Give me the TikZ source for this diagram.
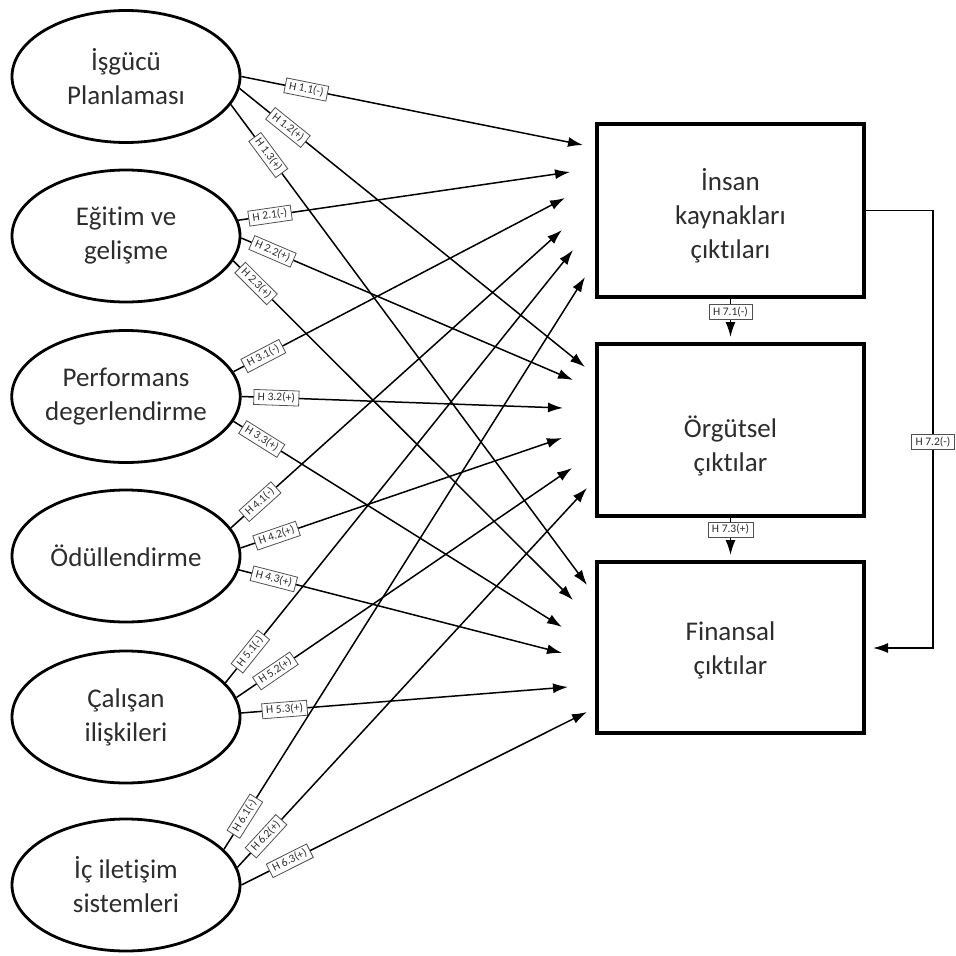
\documentclass[tikz,border=0pt]{standalone}
\usepackage{fontspec}
\setmainfont{Carlito}[Ligatures=NoCommon]
\usetikzlibrary{arrows.meta,shapes.geometric,calc}
\definecolor{txtgray}{RGB}{45,45,45}
\definecolor{lblgray}{RGB}{80,80,80}
\begin{document}
\begin{tikzpicture}[x=1pt,y=-1pt,
  ell/.style={ellipse,draw=black,line width=2.8pt,minimum width=228pt,minimum height=132pt,inner sep=0pt,align=center,font=\fontsize{27}{34}\selectfont,text=txtgray},
  outbox/.style={rectangle,draw=black,line width=3.2pt,minimum width=267pt,minimum height=172pt,inner sep=0pt},
  boxtxt/.style={align=center,font=\fontsize{27}{34}\selectfont,text=txtgray,inner sep=0pt},
  conn/.style={line width=1.5pt,-{Latex[length=15pt,width=10pt]}},
  hl/.style={draw=lblgray,fill=white,line width=0.8pt,font=\fontsize{11.5}{12}\selectfont,inner xsep=4pt,inner ysep=2pt,text height=8.5pt,text depth=2.5pt,text=txtgray},
]
\fill[white] (0,0) rectangle (956,956);
\useasboundingbox (0,0) rectangle (956,956);

% ellipses (causes)
\node[ell] (e1) at (126,76.5) {İşgücü\\Planlaması};
\node[ell] (e2) at (126,236) {Eğitim ve\\gelişme};
\node[ell] (e3) at (126,396.5) {Performans\\degerlendirme};
\node[ell] (e4) at (126,556) {Ödüllendirme};
\node[ell] (e5) at (126,717) {Çalışan\\ilişkileri};
\node[ell] (e6) at (126,885) {İç iletişim\\sistemleri};

% outcome boxes
\node[outbox,minimum height=173pt] (b1) at (730.5,210.5) {};
\node[outbox] (b2) at (730.5,430) {};
\node[outbox,minimum height=171pt] (b3) at (730.5,647.5) {};
\node[boxtxt] (b1t) at (730.5,216) {İnsan\\kaynakları\\çıktıları};
\node[boxtxt] (b2t) at (730.5,446) {Örgütsel\\çıktılar};
\node[boxtxt] (b3t) at (730.5,650) {Finansal\\çıktılar};

% arrow tips (free ends)
\coordinate (t11) at (583,145); \coordinate (t12) at (585,367); \coordinate (t13) at (587,585);
\coordinate (t21) at (570,172); \coordinate (t22) at (573,380); \coordinate (t23) at (573,600);
\coordinate (t31) at (565,198); \coordinate (t32) at (563,408); \coordinate (t33) at (562,627);
\coordinate (t41) at (562,230); \coordinate (t42) at (562,438); \coordinate (t43) at (562,653);
\coordinate (t51) at (573,250); \coordinate (t52) at (572,468); \coordinate (t53) at (568,687);
\coordinate (t61) at (585,277); \coordinate (t62) at (587,488); \coordinate (t63) at (587,712);
\coordinate (t71) at (730.5,337);
\coordinate (t73) at (730.5,555);
\coordinate (t72) at (873,648);
\coordinate (fb) at (933,648);

% connectors
\draw[conn] (e1.0)   -- node[hl,sloped,pos=.19]  {H 1.1(-)} (t11);
\draw[conn] (e1.-6)  -- node[hl,sloped,pos=.14]  {H 1.2(+)} (t12);
\draw[conn] (e1.-15) -- node[hl,sloped,pos=.105] {H 1.3(+)} (t13);

\draw[conn] (e2.8)   -- node[hl,sloped,pos=.096] {H 2.1(-)} (t21);
\draw[conn] (e2.-1)  -- node[hl,sloped,pos=.094] {H 2.2(+)} (t22);
\draw[conn] (e2.-13) -- node[hl,sloped,pos=.067] {H 2.3(+)} (t23);

\draw[conn] (e3.13)  -- node[hl,sloped,pos=.09]  {H 3.1(-)} (t31);
\draw[conn] (e3.0)   -- node[hl,sloped,pos=.108] {H 3.2(+)} (t32);
\draw[conn] (e3.-13) -- node[hl,sloped,pos=.086] {H 3.3(+)} (t33);

\draw[conn] (e4.15)  -- node[hl,sloped,pos=.088] {H 4.1(-)} (t41);
\draw[conn] (e4.4)   -- node[hl,sloped,pos=.112] {H 4.2(+)} (t42);
\draw[conn] (e4.-7)  -- node[hl,sloped,pos=.108] {H 4.3(+)} (t43);

\draw[conn] (e5.19)  -- node[hl,sloped,pos=.072] {H 5.1(-)} (t51);
\draw[conn] (e5.10)  -- node[hl,sloped,pos=.116] {H 5.2(+)} (t52);
\draw[conn] (e5.2)   -- node[hl,sloped,pos=.133] {H 5.3(+)} (t53);

\draw[conn] (e6.20)  -- node[hl,sloped,pos=.058] {H 6.1(-)} (t61);
\draw[conn] (e6.9)   -- node[hl,sloped,pos=.082] {H 6.2(+)} (t62);
\draw[conn] (e6.0)   -- node[hl,sloped,pos=.14]  {H 6.3(+)} (t63);

\draw[conn] (b1.south) -- node[hl,pos=.35] {H 7.1(-)} (t71);
\draw[conn] (b2.south) -- node[hl,pos=.33] {H 7.3(+)} (t73);
\draw[conn] (b1.east) -| node[hl,pos=.765] {H 7.2(-)} (fb) -- (t72);
\end{tikzpicture}
\end{document}
